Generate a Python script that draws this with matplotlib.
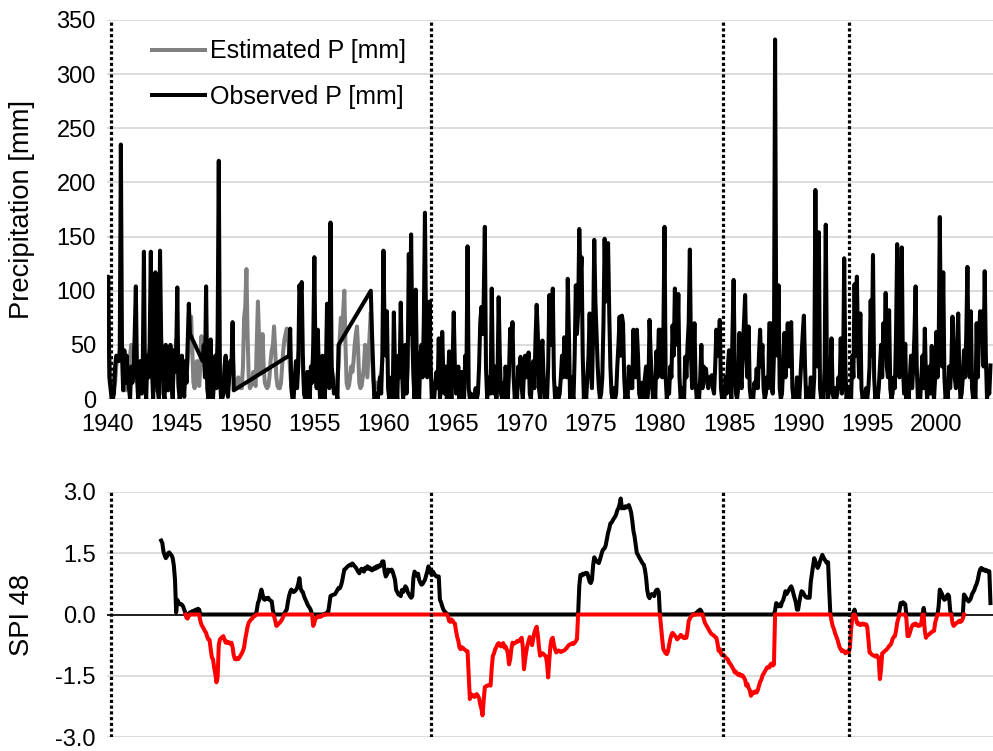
import numpy as np
import pandas as pd
import matplotlib
matplotlib.use('Agg')
import matplotlib.pyplot as plt

plt.rcParams['font.family'] = ['Liberation Sans', 'DejaVu Sans']

NA = np.nan

# monthly observed precipitation [mm], one row per year (Jan..Dec), NA = missing
obs_1940s = [
    48, 113, 20, 10, 0, 0, 5, 30, 40, 38, 35, 40,        # 1940
    235, 40, 8, 45, 15, 40, 20, 10, 0, 30, 15, 25,       # 1941
    60, 104, 20, 0, 10, 35, 5, 30, 136, 10, 0, 40,       # 1942
    20, 50, 136, 30, 0, 25, 117, 40, 10, 0, 137, 55,     # 1943
    40, 5, 0, 50, 30, 8, 20, 50, 15, 0, 45, 25,          # 1944
    40, 103, 12, 0, 5, 40, 20, 2, 35, 15, 50, 88,        # 1945
    60, NA, NA, NA, NA, NA, NA, NA, NA, NA, NA, 35,      # 1946
    50, 20, 104, 10, 0, 30, 55, 5, 0, 20, 40, 10,        # 1947
    60, 220, 20, 0, 0, 5, 30, 40, 10, 2, 20, 35,         # 1948
    30, 71, 8, NA, NA, NA, NA, NA, NA, NA, NA, NA,       # 1949
]
obs_1950s = [
    NA, NA, NA, NA, NA, NA, NA, NA, NA, NA, NA, NA,      # 1950
    NA, NA, NA, NA, NA, NA, NA, NA, NA, NA, NA, NA,      # 1951
    NA, NA, NA, NA, NA, NA, NA, NA, NA, NA, NA, NA,      # 1952
    NA, NA, 40, 65, 10, 0, 0, 20, 35, 10, 30, 105,       # 1953
    95, 108, 40, 5, 0, 0, 25, 10, 0, 30, 15, 50,         # 1954
    131, 30, 10, 64, 20, 0, 5, 40, 10, 0, 25, 88,        # 1955
    40, 10, 163, 30, 20, 5, 10, 10, 0, 50, NA, NA,       # 1956
    NA, NA, NA, NA, NA, NA, NA, NA, NA, NA, NA, NA,      # 1957
    NA, NA, NA, NA, NA, NA, NA, NA, NA, NA, NA, NA,      # 1958
    NA, 100, 62, 30, 0, 0, 5, 0, 10, 20, 5, 40,          # 1959
]
obs_1960s = [
    137, 60, 40, 81, 10, 0, 5, 20, 0, 80, 30, 15,        # 1960
    0, 40, 20, 89, 30, 0, 10, 50, 5, 30, 134, 60,        # 1961
    152, 60, 20, 0, 101, 30, 10, 0, 40, 50, 20, 70,      # 1962
    172, 60, 20, 40, 90, 30, 0, 5, 0, 15, 25, 10,        # 1963
    56, 0, 10, 62, 20, 5, 30, 0, 15, 44, 20, 0,          # 1964
    35, 80, 30, 5, 20, 30, 0, 15, 25, 5, 0, 40,          # 1965
    20, 141, 10, 0, 5, 0, 0, 2, 10, 0, 5, 30,            # 1966
    70, 85, 60, 90, 159, 30, 0, 10, 20, 5, 102, 20,      # 1967
    5, 30, 0, 20, 94, 40, 5, 0, 15, 0, 30, 10,           # 1968
    0, 25, 65, 40, 71, 20, 0, 10, 0, 30, 20, 39,         # 1969
]
obs_1970s = [
    10, 0, 25, 40, 20, 30, 43, 5, 0, 20, 35, 10,         # 1970
    55, 87, 60, 10, 0, 40, 54, 20, 0, 10, 0, 30,         # 1971
    96, 60, 50, 102, 20, 0, 10, 0, 0, 5, 20, 40,         # 1972
    20, 57, 30, 20, 111, 60, 0, 20, 5, 0, 40, 105,       # 1973
    60, 80, 157, 110, 131, 40, 0, 10, 0, 20, 40, 79,     # 1974
    30, 10, 60, 147, 90, 60, 30, 10, 0, 5, 20, 70,       # 1975
    148, 90, 110, 144, 80, 30, 5, 0, 10, 0, 5, 30,       # 1976
    50, 76, 40, 77, 70, 20, 0, 5, 0, 30, 10, 20,         # 1977
    10, 64, 30, 20, 64, 40, 5, 0, 15, 0, 10, 20,         # 1978
    30, 0, 10, 73, 40, 20, 0, 10, 0, 44, 20, 64,         # 1979
]
obs_1980s = [
    64, 30, 20, 60, 159, 20, 0, 10, 5, 30, 20, 68,       # 1980
    40, 102, 60, 50, 97, 20, 0, 5, 10, 0, 39, 20,        # 1981
    50, 70, 138, 40, 10, 30, 70, 15, 0, 5, 0, 20,        # 1982
    50, 10, 30, 25, 28, 15, 10, 20, 15, 22, 10, 5,       # 1983
    30, 64, 40, 50, 73, 10, 0, 5, 0, 20, 5, 30,          # 1984
    45, 20, 0, 60, 110, 30, 5, 0, 10, 61, 20, 10,        # 1985
    50, 70, 96, 40, 20, 67, 10, 0, 5, 0, 15, 10,         # 1986
    28, 10, 40, 64, 30, 50, 10, 0, 5, 20, 10, 70,        # 1987
    70, 10, 5, 40, 332, 60, 40, 105, 10, 0, 5, 30,       # 1988
    61, 20, 40, 70, 30, 60, 71, 10, 0, 5, 0, 20,         # 1989
]
obs_1990s = [
    8, 0, 20, 40, 60, 77, 30, 0, 5, 10, 0, 20,           # 1990
    5, 0, 20, 193, 40, 30, 154, 10, 0, 5, 0, 30,         # 1991
    161, 30, 0, 10, 20, 56, 5, 0, 10, 0, 5, 20,          # 1992
    10, 56, 5, 20, 130, 30, 0, 5, 0, 10, 0, 40,          # 1993
    20, 106, 40, 113, 50, 20, 79, 10, 0, 5, 0, 10,       # 1994
    0, 10, 30, 91, 40, 133, 20, 0, 5, 0, 10, 30,         # 1995
    50, 20, 70, 40, 98, 30, 20, 82, 10, 0, 5, 20,        # 1996
    10, 60, 143, 60, 20, 80, 140, 30, 5, 51, 0, 20,      # 1997
    0, 20, 40, 10, 30, 60, 104, 30, 0, 5, 0, 20,         # 1998
    40, 10, 65, 20, 0, 10, 30, 5, 49, 10, 0, 20,         # 1999
]
obs_2000s = [
    62, 20, 40, 168, 50, 30, 117, 20, 0, 5, 0, 30,       # 2000
    10, 30, 76, 40, 20, 10, 50, 79, 20, 0, 5, 20,        # 2001
    45, 20, 60, 122, 40, 20, 81, 10, 0, 5, 0, 70,        # 2002
    20, 50, 81, 60, 81, 30, 118, 40, 0, 10, 5, 31,       # 2003
]

# monthly estimated precipitation [mm], 1940-1959
est_1940s = [
    45, 60, 40, 20, 10, 8, 10, 15, 30, 40, 35, 45,
    55, 50, 35, 15, 8, 10, 12, 25, 40, 50, 40, 45,
    50, 55, 30, 12, 8, 15, 30, 20, 45, 35, 25, 40,
    35, 45, 55, 30, 10, 8, 40, 30, 15, 25, 50, 45,
    40, 20, 10, 35, 30, 12, 20, 35, 15, 10, 30, 40,
    55, 35, 15, 10, 12, 25, 20, 10, 25, 20, 35, 50,
    60, 76, 45, 15, 10, 20, 35, 20, 12, 30, 58, 35,
    40, 25, 50, 20, 10, 25, 40, 15, 8, 20, 35, 20,
    45, 55, 25, 10, 8, 12, 25, 30, 15, 10, 20, 30,
    30, 45, 20, 10, 10, 15, 20, 12, 10, 10, 30, 75,
]
est_1950s = [
    85, 120, 60, 20, 10, 12, 18, 25, 15, 12, 50, 90,
    55, 25, 40, 60, 30, 15, 12, 10, 12, 20, 35, 45,
    50, 67, 45, 20, 12, 10, 10, 15, 30, 45, 55, 60,
    65, 60, 45, 25, 12, 10, 15, 20, 12, 25, 40, 50,
    45, 50, 30, 12, 10, 15, 25, 15, 10, 25, 20, 40,
    50, 35, 20, 40, 20, 10, 15, 25, 12, 15, 25, 45,
    40, 25, 50, 30, 15, 10, 15, 12, 20, 30, 55, 75,
    55, 80, 100, 50, 15, 10, 12, 20, 30, 25, 35, 50,
    60, 67, 45, 15, 10, 12, 20, 30, 50, 35, 20, 40,
    60, 80, 45, 20, 10, 10, 15, 12, 15, 20, 25, 35,
]

# SPI 48, monthly from Dec 1943
spi_1940s = [
    1.81,
    1.75, 1.54, 1.45, 1.38, 1.42, 1.50, 1.52, 1.48, 1.45, 1.38, 1.20, 0.85,
    0.05, 0.36, 0.30, 0.25, 0.26, 0.24, 0.20, 0.12, 0.04, -0.08, -0.10, -0.02,
    0.05, 0.06, 0.08, 0.05, 0.10, 0.12, 0.08, 0.14, 0.12, -0.16, -0.25, -0.30,
    -0.35, -0.41, -0.45, -0.55, -0.61, -0.62, -0.85, -1.05, -1.10, -1.30, -1.45, -1.66,
    -1.54, -0.75, -0.61, -0.58, -0.55, -0.53, -0.62, -0.69, -0.66, -0.70, -0.68, -0.72,
    -0.69, -0.80, -1.00, -1.09, -1.10, -1.07, -1.09, -1.05, -1.00, -0.95, -0.89, -0.80,
]
spi_1950s = [
    -0.60, -0.45, -0.30, -0.20, -0.16, -0.12, -0.10, -0.06, -0.04, -0.02, 0.10, 0.28,
    0.35, 0.50, 0.61, 0.50, 0.38, 0.36, 0.40, 0.38, 0.41, 0.36, 0.34, 0.32,
    0.10, -0.04, -0.15, -0.28, -0.26, -0.22, -0.20, -0.16, -0.12, -0.05, 0.02, 0.08,
    0.12, 0.30, 0.45, 0.55, 0.61, 0.58, 0.55, 0.57, 0.60, 0.65, 0.75, 0.89,
    0.65, 0.57, 0.55, 0.45, 0.38, 0.32, 0.25, 0.20, 0.16, 0.10, 0.00, -0.28,
    -0.20, -0.10, -0.08, -0.05, -0.04, -0.06, -0.04, -0.03, 0.00, 0.02, 0.00, 0.05,
    0.05, 0.25, 0.45, 0.47, 0.48, 0.49, 0.50, 0.55, 0.60, 0.65, 0.64, 0.70,
    0.80, 0.95, 1.10, 1.12, 1.15, 1.18, 1.20, 1.22, 1.20, 1.25, 1.22, 1.18,
    1.15, 1.10, 1.05, 1.01, 1.08, 1.12, 1.10, 1.05, 1.14, 1.12, 1.18, 1.12,
    1.15, 1.10, 1.08, 1.10, 1.15, 1.12, 1.18, 1.15, 1.20, 1.18, 1.22, 1.30,
]
spi_1960s = [
    1.30, 1.05, 0.93, 0.98, 1.10, 1.05, 1.08, 1.10, 1.05, 0.95, 0.85, 0.60,
    0.55, 0.49, 0.50, 0.45, 0.60, 0.55, 0.62, 0.69, 0.65, 0.55, 0.50, 0.45,
    0.41, 0.45, 0.90, 1.05, 1.00, 0.95, 1.00, 0.85, 0.78, 0.73, 0.75, 0.80,
    0.85, 0.95, 1.05, 1.18, 1.10, 1.02, 0.97, 1.05, 1.00, 0.96, 0.93, 0.93,
    0.93, 0.36, 0.30, 0.20, 0.12, 0.08, 0.05, 0.02, -0.05, -0.16, -0.18, -0.12,
    -0.15, -0.20, -0.22, -0.40, -0.55, -0.65, -0.81, -0.85, -0.80, -0.82, -0.85, -0.87,
    -0.89, -0.90, -1.50, -2.07, -1.95, -2.00, -1.98, -2.02, -1.97, -1.95, -1.99, -2.05,
    -2.20, -2.30, -2.47, -2.10, -1.78, -1.76, -1.74, -1.74, -1.72, -1.74, -1.30, -1.01,
    -0.95, -0.85, -0.80, -0.73, -0.70, -0.75, -0.78, -0.72, -0.70, -0.81, -0.78, -0.85,
    -0.95, -1.22, -1.10, -0.85, -0.69, -0.72, -0.70, -0.68, -0.65, -0.66, -0.64, -0.60,
]
spi_1970s = [
    -0.57, -0.80, -1.34, -1.10, -0.90, -0.75, -0.65, -0.55, -0.60, -0.75, -0.60, -0.45,
    -0.36, -0.30, -0.50, -0.80, -1.01, -0.98, -0.95, -0.97, -1.00, -1.02, -1.20, -1.54,
    -1.10, -0.75, -0.60, -0.57, -0.75, -0.85, -0.93, -0.90, -0.88, -0.90, -0.92, -0.90,
    -0.89, -0.88, -0.85, -0.82, -0.78, -0.75, -0.73, -0.72, -0.70, -0.72, -0.69, -0.65,
    -0.60, 0.00, 0.70, 0.97, 0.95, 1.00, 0.98, 1.01, 1.02, 1.01, 0.90, 0.80,
    0.77, 0.85, 1.20, 1.40, 1.35, 1.30, 1.28, 1.26, 1.35, 1.45, 1.55, 1.60,
    1.62, 1.70, 1.85, 2.00, 2.10, 2.23, 2.25, 2.30, 2.35, 2.39, 2.45, 2.55,
    2.60, 2.70, 2.84, 2.60, 2.62, 2.60, 2.65, 2.62, 2.65, 2.68, 2.60, 2.50,
    2.30, 2.05, 1.91, 1.70, 1.50, 1.46, 1.40, 1.35, 1.30, 1.25, 1.22, 1.10,
    0.90, 0.60, 0.45, 0.40, 0.48, 0.50, 0.49, 0.45, 0.55, 0.60, 0.61, 0.55,
]
spi_1980s = [
    0.00, -0.30, -0.60, -0.85, -0.90, -0.95, -0.97, -0.90, -0.75, -0.60, -0.50, -0.45,
    -0.48, -0.52, -0.55, -0.61, -0.58, -0.55, -0.50, -0.52, -0.56, -0.58, -0.55, -0.57,
    -0.40, -0.16, -0.10, -0.05, -0.03, 0.00, 0.02, 0.00, 0.05, 0.08, 0.10, 0.12,
    0.08, 0.00, -0.10, -0.20, -0.25, -0.30, -0.35, -0.40, -0.45, -0.48, -0.50, -0.52,
    -0.55, -0.57, -0.70, -0.89, -0.85, -0.95, -1.00, -0.98, -1.01, -1.05, -1.08, -1.10,
    -1.18, -1.20, -1.25, -1.30, -1.35, -1.42, -1.40, -1.45, -1.48, -1.45, -1.50, -1.48,
    -1.50, -1.55, -1.60, -1.74, -1.70, -1.80, -1.85, -1.99, -1.95, -1.90, -1.92, -1.88,
    -1.91, -1.85, -1.75, -1.65, -1.60, -1.50, -1.45, -1.40, -1.35, -1.30, -1.28, -1.30,
    -1.22, -1.20, -1.25, -1.22, 0.10, 0.28, 0.22, 0.20, 0.25, 0.20, 0.30, 0.35,
    0.45, 0.57, 0.50, 0.55, 0.60, 0.65, 0.69, 0.62, 0.50, 0.40, 0.30, 0.12,
]
spi_1990s = [
    0.12, 0.30, 0.45, 0.57, 0.55, 0.50, 0.45, 0.42, 0.41, 0.43, 0.41, 0.80,
    1.00, 1.20, 1.38, 1.30, 1.20, 1.14, 1.20, 1.30, 1.38, 1.46, 1.40, 1.35,
    1.30, 1.26, 1.28, 0.60, 0.00, -0.15, -0.28, -0.35, -0.45, -0.53, -0.60, -0.70,
    -0.80, -0.85, -0.90, -0.88, -0.90, -0.95, -0.93, -0.90, -0.93, -0.80, -0.36, -0.10,
    0.05, 0.12, -0.05, -0.20, -0.24, -0.22, -0.26, -0.24, -0.22, -0.25, -0.24, -0.24,
    -0.30, -0.60, -0.93, -0.95, -0.98, -1.00, -1.01, -1.03, -1.00, -1.02, -1.10, -1.58,
    -1.35, -0.95, -0.93, -0.90, -0.88, -0.85, -0.82, -0.77, -0.75, -0.70, -0.60, -0.55,
    -0.53, -0.40, -0.20, -0.10, 0.10, 0.28, 0.25, 0.30, 0.28, 0.25, -0.10, -0.53,
    -0.53, -0.45, -0.35, -0.28, -0.24, -0.26, -0.22, -0.25, -0.28, -0.26, -0.27, -0.20,
    0.00, 0.16, -0.40, -0.57, -0.52, -0.50, -0.48, -0.45, -0.43, -0.41, -0.40, -0.20,
]
spi_2000s = [
    -0.10, 0.00, 0.20, 0.61, 0.55, 0.50, 0.40, 0.36, 0.38, 0.45, 0.49, 0.45,
    0.10, 0.00, -0.20, -0.28, -0.25, -0.22, -0.20, -0.18, -0.15, -0.18, -0.16, -0.10,
    0.49, 0.45, 0.40, 0.35, 0.32, 0.35, 0.40, 0.50, 0.55, 0.60, 0.69, 0.75,
    0.85, 1.00, 1.10, 1.14, 1.12, 1.08, 1.10, 1.06, 1.08, 1.05, 1.06, 0.28,
]

# dates of the vertical dotted markers (decimal years)
marker_years = [1940.3, 1963.45, 1984.6, 1993.7]

year_ticks = list(range(1940, 2001, 5))
p_ticks = list(range(0, 351, 50))
spi_ticks = [-3.0, -1.5, 0.0, 1.5, 3.0]

# ---- build series
months = pd.date_range('1940-01-01', '2003-12-01', freq='MS')
t = np.asarray(months.year + (months.month - 1) / 12.0, dtype=float)

observed = np.array(obs_1940s + obs_1950s + obs_1960s + obs_1970s
                    + obs_1980s + obs_1990s + obs_2000s, dtype=float)
estimated = np.array(est_1940s + est_1950s, dtype=float)
spi = np.array(spi_1940s + spi_1950s + spi_1960s + spi_1970s
               + spi_1980s + spi_1990s + spi_2000s, dtype=float)
t_spi = t[len(t) - len(spi):]

ok = ~np.isnan(observed)   # gaps are bridged by a straight line, as in the source
spi_pos = np.maximum(spi, 0)
spi_neg = np.minimum(spi, 0)
neg_idx = np.where(spi < 0)[0]
r0, r1 = neg_idx[0] - 1, neg_idx[-1] + 2

grid_c = '#d9d9d9'
fs_tick = 17

fig = plt.figure(figsize=(9.93, 7.51), dpi=100)
ax1 = fig.add_axes([0.1078, 0.4687, 0.8922, 0.5047])
ax2 = fig.add_axes([0.1078, 0.0186, 0.8922, 0.3263])

# ---- precipitation panel
l_est, = ax1.plot(t[:len(estimated)], estimated, color='#808080', lw=2.9,
                  label='Estimated P [mm]', zorder=3)
l_obs, = ax1.plot(t[ok], observed[ok], color='black', lw=2.9,
                  label='Observed P [mm]', zorder=4)
for yr in marker_years:
    ax1.axvline(yr, color='black', lw=2.3, ls=(0, (1, 0.8)), zorder=5)

ax1.set_xlim(1940, 2004.1)
ax1.set_ylim(0, 350)
ax1.set_yticks(p_ticks)
ax1.set_xticks(year_ticks)
ax1.grid(axis='y', color=grid_c, lw=1.3, zorder=0)
ax1.set_axisbelow(True)
ax1.tick_params(length=0, labelsize=fs_tick)
ax1.tick_params(axis='y', pad=8)
ax1.tick_params(axis='x', pad=11)
for s in ax1.spines.values():
    s.set_visible(False)

ax1.legend(handles=[l_est, l_obs], loc='upper left', bbox_to_anchor=(0.051, 0.949),
           frameon=False, fontsize=18, handlelength=2.1, handletextpad=0.2,
           labelspacing=0.86, borderpad=0, borderaxespad=0)

# ---- SPI panel
ax2.axhline(0, color='black', lw=1.2, zorder=2)
ax2.plot(t_spi, spi_pos, color='black', lw=2.9, zorder=3)
ax2.plot(t_spi[r0:r1], spi_neg[r0:r1], color='#ff0000', lw=2.9, zorder=4)
for yr in marker_years:
    ax2.axvline(yr, color='black', lw=2.3, ls=(0, (1, 0.8)), zorder=5)

ax2.set_xlim(1940, 2004.1)
ax2.set_ylim(-3, 3)
ax2.set_yticks(spi_ticks)
ax2.set_yticklabels(['%.1f' % v for v in spi_ticks])
ax2.set_xticks([])
ax2.grid(axis='y', color=grid_c, lw=1.3, zorder=0)
ax2.set_axisbelow(True)
ax2.tick_params(length=0, labelsize=fs_tick, pad=8)
for s in ax2.spines.values():
    s.set_visible(False)

fig.text(22 / 993, 1 - 209.5 / 751, 'Precipitation [mm]', rotation=90,
         ha='center', va='center', fontsize=19.7)
fig.text(22 / 993, 1 - 614.5 / 751, 'SPI 48', rotation=90,
         ha='center', va='center', fontsize=19.7)

fig.savefig('out.png', dpi=100)
